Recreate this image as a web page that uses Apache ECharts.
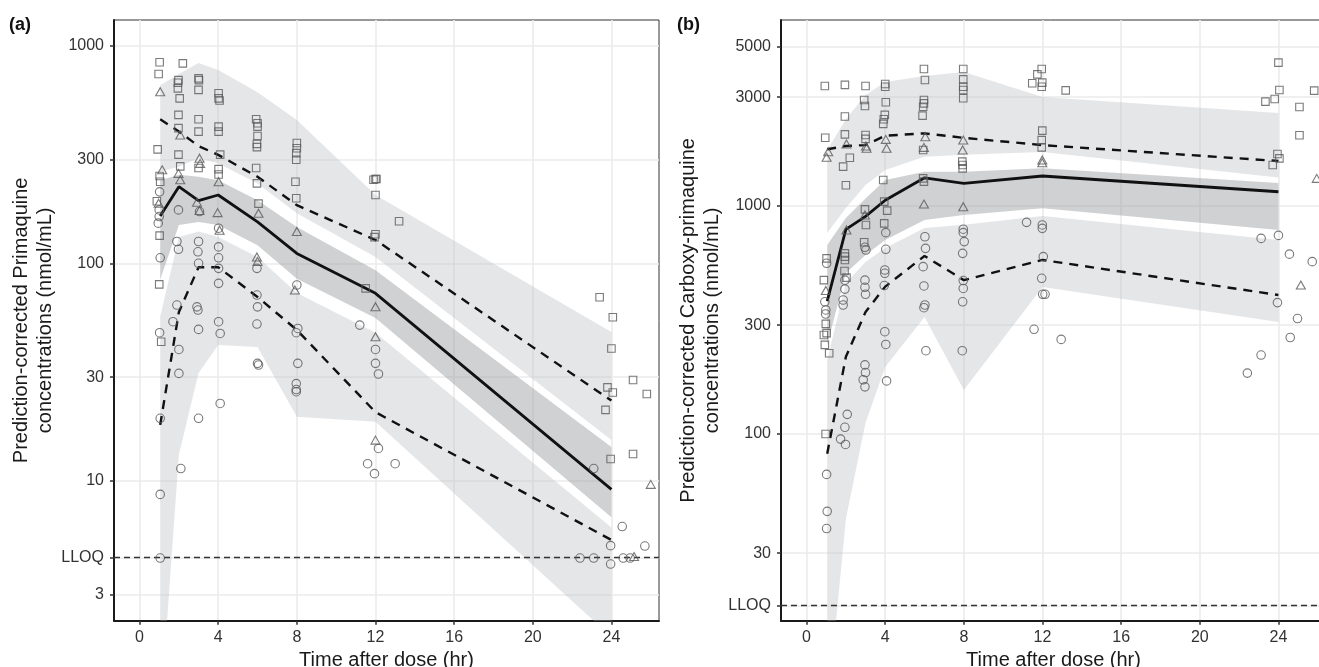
<!DOCTYPE html>
<html>
<head>
<meta charset="utf-8">
<script src="https://cdn.jsdelivr.net/npm/echarts@6/dist/echarts.min.js"></script>
<style>
html, body { margin: 0; padding: 0; background: #fff; }
#main { width: 1319px; height: 667px; }
</style>
</head>
<body>
<div id="main"></div>
<script>
// bin times used by the VPC summaries
var bins = [1.05, 2, 3, 4, 6, 8, 12, 24];
var xTicks = [0, 4, 8, 12, 16, 20, 24];

// (a) primaquine
var lloqA = 4.42;
var yTicksA = [3, 10, 30, 100, 300, 1000];
var medA = [165, 225, 194, 206, 155, 111, 72.8, 9.15];
var p95A = [459, 403, 346, 315, 250, 185, 128, 23.4];
var p05A = [18.1, 59.7, 96, 96, 70, 49.4, 20.7, 5.35];
var hiTopA = [659, 741, 832, 773, 612, 456, 206, 48.3];
var hiBotA = [264, 278, 304, 288, 233, 170, 107, 15.4];
var midTopA = [241, 255, 250, 241, 195, 147, 93, 14.3];
var midBotA = [84, 150, 155, 150, 121, 85, 56, 6.8];
var loTopA = [57, 132, 140, 132, 107, 73, 48, 6.1];
var loBotA = [0.82, 13.2, 31.3, 42.1, 41.2, 19.7, 18.7, 1.92];

var sqA = [[1.02,839],[2.2,830],[0.97,741],[1.98,695],[1.95,676],[1.95,637],[2.04,573],[3.0,708],[3.02,695],[3.0,627],
  [4.02,605],[4.02,573],[4.07,560],[1.98,481],[3.0,459],[1.98,418],[3.0,403],[4.02,425],[4.02,403],[0.92,334],
  [1.98,316],[2.07,279],[3.0,274],[4.1,316],[4.02,271],[4.02,256],[5.93,459],[6.0,440],[6.0,425],[6.0,385],
  [5.97,354],[5.97,342],[5.93,274],[5.97,233],[6.05,188],[8.0,357],[8.0,338],[7.97,321],[7.97,299],[7.93,237],
  [7.97,199],[1.02,252],[1.05,237],[0.88,193],[1.02,134],[1.0,80],[1.1,43.6],[11.9,242],[12.0,244],[12.05,244],
  [12.0,206],[13.2,156],[12.0,136],[11.95,132],[11.5,76.7],[23.4,69.8],[24.07,56.5],[24.0,40.6],[25.1,29.1],
  [23.8,26.9],[24.07,25.5],[25.8,25.1],[23.7,21.2],[23.96,12.6],[25.1,13.3]];
var triA = [[1.05,615],[2.07,389],[1.98,259],[2.07,242],[3.05,304],[3.08,288],[2.92,191],[3.05,175],[4.02,237],
  [3.97,171],[4.07,142],[6.05,170],[5.97,107],[6.0,102],[8.0,140],[7.9,75.4],[1.15,269],[0.97,189],[12.0,63.2],
  [12.0,46],[12.0,15.4],[26.0,9.64],[25.15,4.49]];
var ciA = [[1.02,213],[1.0,176],[1.0,164],[0.95,153],[1.05,106],[1.9,126],[1.98,116],[3.0,126],[2.97,113],[3.0,100],
  [4.02,119],[4.02,106],[4.02,94.8],[4.02,80.9],[5.97,94.8],[5.97,71.5],[6.0,63.1],[5.97,52.6],[1.9,64.3],[1.7,53.9],
  [1.02,48],[2.92,63.1],[2.97,61],[3.0,49.7],[4.02,53.9],[4.1,47.6],[8.0,79.5],[8.05,50.2],[1.98,176],[3.05,173],
  [4.02,145],[2.0,40.2],[2.0,31.2],[1.05,19.4],[3.0,19.4],[4.1,22.7],[2.1,11.4],[1.05,8.67],[1.05,4.42],[6.0,34.7],
  [6.05,34.1],[8.05,34.7],[7.97,28],[7.97,26.3],[7.97,25.7],[7.97,48],[11.2,52],[12.0,40.2],[12.0,34.7],[12.15,31],
  [12.15,14.1],[11.6,12],[11.95,10.8],[13.0,12],[23.1,11.4],[24.55,6.17],[23.96,5.04],[25.7,5.02],[22.4,4.42],
  [23.1,4.42],[23.96,4.15],[24.6,4.42],[24.95,4.42]];

// (b) carboxy-primaquine
var lloqB = 17.6;
var yTicksB = [30, 100, 300, 1000, 3000, 5000];
var medB = [383, 790, 900, 1060, 1330, 1256, 1354, 1155];
var p95B = [1774, 1833, 1850, 2034, 2083, 1990, 1850, 1575];
var p05B = [82, 218, 343, 443, 604, 473, 580, 407];
var hiTopB = [1762, 2400, 3069, 3499, 3715, 3873, 3006, 2559];
var hiBotB = [762, 980, 1236, 1438, 1645, 1676, 1726, 1335];
var midTopB = [675, 886, 1080, 1300, 1414, 1414, 1463, 1262];
var midBotB = [246, 508, 609, 709, 868, 913, 977, 785];
var loTopB = [211, 459, 568, 655, 801, 827, 903, 709];
var loBotB = [6, 42.4, 112, 197, 326, 156, 441, 310];

var sqB = [[0.93,3362],[1.95,3397],[3.0,3362],[4.0,3430],[4.0,3336],[4.03,2851],[2.93,2918],[2.97,2747],[1.95,2468],
  [3.98,2509],[3.93,2402],[3.9,2291],[5.97,3990],[6.02,3570],[5.97,2918],[5.97,2820],[5.93,2726],[5.9,2492],
  [7.97,3990],[7.97,3594],[7.97,3336],[7.97,3228],[7.97,2967],[11.96,3990],[11.74,3778],[11.48,3453],[11.99,3478],
  [11.96,3336],[0.95,1993],[1.95,2062],[3.0,2048],[3.0,1969],[2.2,1629],[1.86,1488],[2.0,1233],[3.9,1300],
  [5.93,1761],[7.92,1565],[7.94,1513],[7.94,1463],[11.99,2140],[11.96,1946],[11.96,1808],[5.93,1322],[5.97,1279],
  [2.97,967],[4.1,954],[3.95,1045],[3.02,826],[3.95,839],[2.93,693],[1.95,620],[1.95,600],[1.95,580],[1.93,519],
  [2.03,485],[1.02,589],[0.88,473],[0.98,304],[0.88,272],[1.02,277],[0.93,246],[1.15,226],[0.97,100],[13.18,3216],
  [24.0,4254],[24.05,3228],[23.81,2945],[23.34,2868],[25.07,2718],[25.82,3205],[25.07,2042],[23.95,1690],
  [24.05,1618],[23.71,1513]];
var triB = [[1.02,1635],[1.1,1731],[2.03,1871],[3.02,1833],[3.05,1790],[4.03,1960],[4.07,1790],[6.04,2014],
  [5.97,1808],[7.97,1946],[7.94,1761],[11.99,1592],[11.99,1548],[5.97,1020],[7.97,993],[2.03,785],[2.97,913],
  [0.98,426],[25.14,450],[25.95,1322]];
var ciB = [[1.02,561],[4.03,764],[4.03,646],[2.97,659],[3.02,641],[6.02,733],[6.05,652],[7.97,791],[7.97,764],
  [8.02,698],[7.94,620],[11.19,848],[11.99,826],[11.99,798],[12.04,600],[11.96,482],[12.01,410],[12.13,410],
  [5.93,542],[5.97,446],[6.02,368],[5.97,358],[7.97,471],[7.97,435],[7.94,380],[3.98,524],[3.98,507],[3.95,448],
  [2.97,473],[2.97,440],[3.0,410],[1.95,473],[1.95,432],[1.86,387],[1.86,368],[0.93,380],[0.98,350],[0.97,336],
  [3.98,281],[11.57,288],[4.03,247],[2.97,201],[3.0,186],[2.88,173],[2.97,161],[4.07,171],[2.07,122],[1.95,107],
  [1.73,95],[1.98,90],[1.02,66.5],[1.05,45.8],[1.02,38.5],[6.07,232],[7.92,232],[12.95,260],[23.12,721],[24.0,743],
  [24.56,615],[25.72,570],[23.95,377],[24.97,321],[24.6,265],[22.42,185],[23.12,222]];

var FONT = 'Liberation Sans, Arial, Helvetica, sans-serif';
var LIGHT = 'rgba(186,188,194,0.38)';
var DARK = 'rgba(150,152,156,0.45)';

function lg(v) { return Math.log10(v); }

var chart = echarts.init(document.getElementById('main'));

function xAxisFor(gi) {
    return {
        type: 'value', gridIndex: gi, min: -1.3, max: 26.42,
        name: 'Time after dose (hr)', nameLocation: 'middle', nameGap: 24,
        nameTextStyle: { fontSize: 20, color: '#1a1a1a', fontFamily: FONT },
        axisLine: { show: true, onZero: false, lineStyle: { color: '#1a1a1a', width: 2 } },
        axisTick: { show: true, length: 4, customValues: xTicks, lineStyle: { color: '#333', width: 1.5 } },
        axisLabel: { customValues: xTicks, margin: 9, fontSize: 16, color: '#333', fontFamily: FONT },
        splitLine: { show: true, lineStyle: { color: '#ebebeb', width: 1.6 } }
    };
}

function yAxisFor(gi, ticks, lloq, lo, hi, name) {
    var vals = ticks.concat([lloq]).map(lg);
    return {
        type: 'value', gridIndex: gi, min: lg(lo), max: lg(hi),
        name: name, nameLocation: 'middle', nameGap: 55, nameRotate: 90,
        nameTextStyle: { fontSize: 20, lineHeight: 24, color: '#1a1a1a', fontFamily: FONT, align: 'center' },
        axisLine: { show: true, onZero: false, lineStyle: { color: '#1a1a1a', width: 2 } },
        axisTick: { show: true, length: 4, customValues: vals, lineStyle: { color: '#333', width: 1.5 } },
        axisLabel: {
            customValues: vals, margin: 10, fontSize: 16, color: '#333', fontFamily: FONT,
            formatter: function (v) {
                if (Math.abs(v - lg(lloq)) < 1e-6) return 'LLOQ';
                return String(Math.round(Math.pow(10, v)));
            }
        },
        splitLine: { show: true, lineStyle: { color: '#ebebeb', width: 1.6 } }
    };
}

function band(gi, lo, hi, color) {
    return {
        type: 'custom', xAxisIndex: gi, yAxisIndex: gi, clip: true, silent: true, z: 2,
        data: [0],
        renderItem: function (params, api) {
            var pts = [];
            for (var i = 0; i < bins.length; i++) pts.push(api.coord([bins[i], lg(hi[i])]));
            for (var j = bins.length - 1; j >= 0; j--) pts.push(api.coord([bins[j], lg(lo[j])]));
            return { type: 'polygon', shape: { points: pts }, style: { fill: color } };
        }
    };
}

function line(gi, ys, dashed) {
    return {
        type: 'line', xAxisIndex: gi, yAxisIndex: gi, symbol: 'none', silent: true, z: 4,
        data: bins.map(function (t, i) { return [t, lg(ys[i])]; }),
        lineStyle: { color: '#111', width: dashed ? 2.4 : 2.8, type: dashed ? [9, 7] : 'solid' }
    };
}

function lloqLine(gi, lloq) {
    return {
        type: 'line', xAxisIndex: gi, yAxisIndex: gi, data: [], silent: true, z: 3,
        markLine: {
            silent: true, symbol: 'none', animation: false,
            label: { show: false },
            lineStyle: { color: '#333', type: [6, 4], width: 1.3 },
            data: [{ yAxis: lg(lloq) }]
        }
    };
}

function points(gi, arr, symbol, size) {
    return {
        type: 'scatter', xAxisIndex: gi, yAxisIndex: gi, symbol: symbol, symbolSize: size, silent: true, z: 5,
        data: arr.map(function (p) { return [p[0], lg(p[1])]; }),
        itemStyle: { color: 'rgba(0,0,0,0)', borderColor: '#595959', borderWidth: 1.1 }
    };
}

var option = {
    animation: false,
    backgroundColor: '#fff',
    grid: [
        { left: 114, top: 20, width: 545, height: 600.7, show: true, borderColor: '#333', borderWidth: 1, outerBoundsMode: 'none' },
        { left: 781, top: 20, width: 545, height: 600.7, show: true, borderColor: '#333', borderWidth: 1, outerBoundsMode: 'none' }
    ],
    xAxis: [xAxisFor(0), xAxisFor(1)],
    yAxis: [
        yAxisFor(0, yTicksA, lloqA, 2.278, 1313, 'Prediction-corrected Primaquine\nconcentrations (nmol/mL)'),
        yAxisFor(1, yTicksB, lloqB, 15.18, 6543, 'Prediction-corrected Carboxy-primaquine\nconcentrations (nmol/mL)')
    ],
    graphic: [
        { type: 'text', left: 9, top: 16, style: { text: '(a)', fontSize: 18, fontWeight: 'bold', fill: '#111', fontFamily: FONT } },
        { type: 'text', left: 677, top: 16, style: { text: '(b)', fontSize: 18, fontWeight: 'bold', fill: '#111', fontFamily: FONT } }
    ],
    series: [
        band(0, hiBotA, hiTopA, LIGHT),
        band(0, midBotA, midTopA, DARK),
        band(0, loBotA, loTopA, LIGHT),
        lloqLine(0, lloqA),
        line(0, medA, false),
        line(0, p95A, true),
        line(0, p05A, true),
        points(0, sqA, 'rect', 7.5),
        points(0, triA, 'triangle', [9, 8]),
        points(0, ciA, 'circle', 8.5),

        band(1, hiBotB, hiTopB, LIGHT),
        band(1, midBotB, midTopB, DARK),
        band(1, loBotB, loTopB, LIGHT),
        lloqLine(1, lloqB),
        line(1, medB, false),
        line(1, p95B, true),
        line(1, p05B, true),
        points(1, sqB, 'rect', 7.5),
        points(1, triB, 'triangle', [9, 8]),
        points(1, ciB, 'circle', 8.5)
    ]
};

chart.setOption(option);
</script>
</body>
</html>
